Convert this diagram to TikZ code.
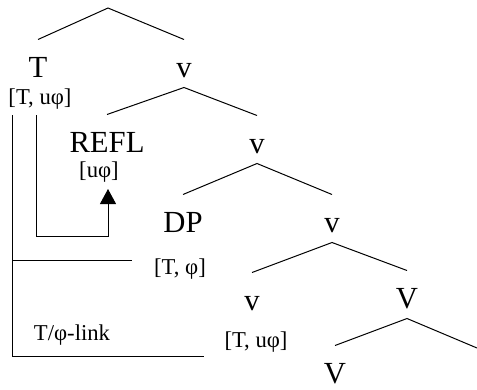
\documentclass[tikz,border=0pt]{standalone}
\usepackage{fontspec}
\setmainfont{Liberation Serif}
\usetikzlibrary{arrows.meta}

\begin{document}
\begin{tikzpicture}[x=0.75pt,y=-0.75pt,line width=0.75pt,>=Triangle,
  cat/.style={font=\fontsize{23}{27}\selectfont,inner sep=0pt,anchor=base,text height=27.75pt,text depth=7.5pt},
  feat/.style={font=\fontsize{17}{20}\selectfont,inner sep=0pt,anchor=base}]
\useasboundingbox (0,0) rectangle (477,389);
% tree
\coordinate (root) at (108,8);
\node[cat] (T) at (38,77) {T};
\node[feat] (featT) at (40,104) {[T, uφ]};
\node[cat] (v1) at (184,77) {v};
\node[cat,text depth=0pt] (refl) at (107,152) {REFL};
\node[feat] (featR) at (99,177) {[uφ]};
\node[cat] (v2) at (257,153) {v};
\node[cat] (dp) at (183,232) {DP};
\node[feat] (featD) at (180,274) {[T, φ]};
\node[cat] (v3) at (332,232) {v};
\node[cat] (v4) at (252,310) {v};
\node[feat] (featv) at (256,347) {[T, uφ]};
\node[cat] (V1) at (407,308) {V};
\node[cat] (V2) at (335,383) {V};
\coordinate (Vcomp) at (477,348);
\draw (T.north) -- (root) -- (v1.north);
\draw (refl.north) -- (v1.south) -- (v2.north);
\draw (dp.north) -- (v2.south) -- (v3.north);
\draw (v4.north) -- (v3.south) -- (V1.north);
\draw (V2.north) -- (V1.south) -- (Vcomp);
% links
\coordinate (outTop) at (12,115);
\coordinate (outEnd) at (204,356);
\coordinate (midEnd) at (132,260);
\coordinate (inTop) at (36,115);
\coordinate (inBot) at (36,236);
\coordinate (arrTip) at (108,189);
\node[feat] (lk) at (72,340) {T/φ-link};
\draw (outTop) |- (outEnd);
\draw (outTop |- midEnd) -- (midEnd);
\draw[-{Triangle[length=11.25pt,width=12pt]}] (inTop) -- (inBot) -| (arrTip);
\end{tikzpicture}
\end{document}
